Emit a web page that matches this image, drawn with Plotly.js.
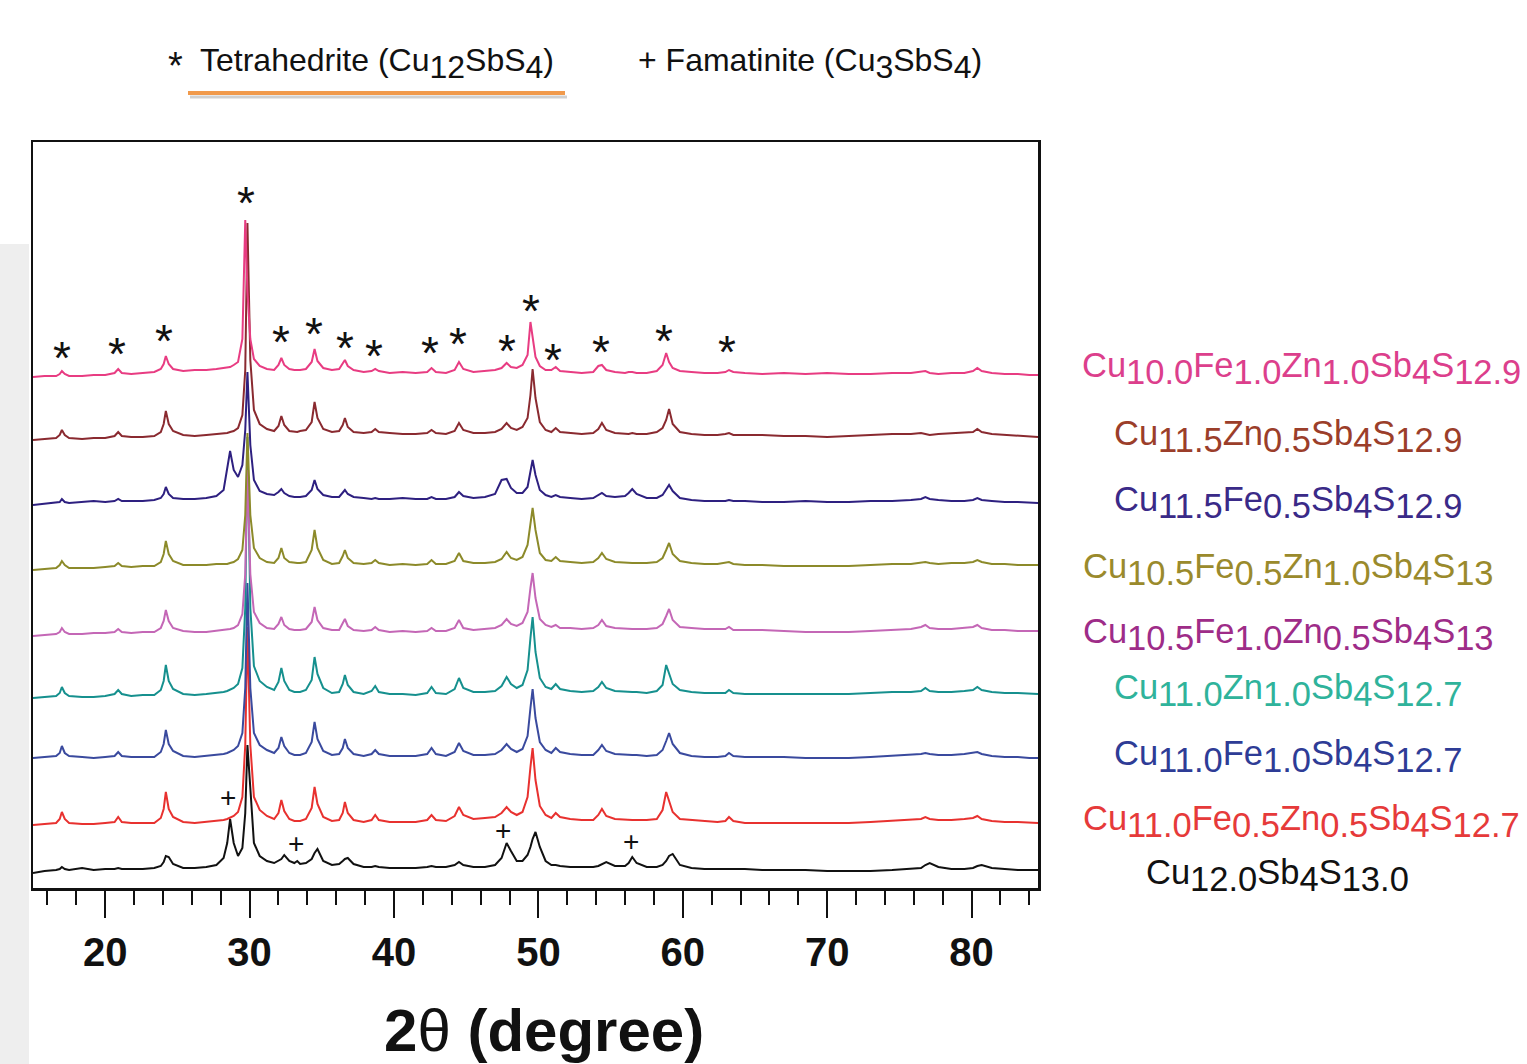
<!DOCTYPE html>
<html>
<head>
<meta charset="utf-8">
<script src="https://cdn.plot.ly/plotly-3.0.1.min.js"></script>
<style>
  html, body { margin: 0; padding: 0; background: #ffffff; }
  #chart { width: 1527px; height: 1064px; }
</style>
</head>
<body>
<div id="chart"></div>
<script>
// 2-theta sampling grid (degrees), shared by all patterns
const twoTheta = [
  15.0,15.8,16.6,16.85,17.0,17.2,17.5,18.4,19.2,20.0,
  20.65,20.9,21.15,21.8,22.6,23.4,23.85,24.05,24.2,24.4,
  24.7,25.4,26.2,27.0,27.7,28.2,28.45,28.65,28.9,29.2,
  29.5,29.7,29.85,30.05,30.3,30.7,31.2,31.7,32.0,32.2,
  32.4,32.75,33.1,33.3,33.5,33.9,34.3,34.5,34.7,35.1,
  35.7,36.2,36.45,36.6,36.8,37.2,37.9,38.45,38.7,38.95,
  39.7,40.6,41.5,42.3,42.6,42.9,43.6,44.2,44.5,44.8,
  45.5,46.3,47.0,47.45,47.8,48.1,48.5,48.9,49.25,49.45,
  49.6,49.8,50.1,50.5,50.9,51.2,51.5,52.2,53.0,53.8,
  54.15,54.4,54.7,55.3,56.0,56.25,56.5,56.8,57.5,58.2,
  58.6,58.85,59.05,59.3,59.8,60.6,61.5,62.4,62.95,63.2,
  63.5,64.3,65.5,67.0,68.5,70.0,71.5,73.0,74.5,75.8,
  76.5,76.8,77.1,77.7,78.6,79.5,80.1,80.4,80.7,81.4,82.3,83.2,84.0,84.6
];

// Intensities (a.u.) of each pattern, relative to its own baseline
const cu100Fe10Zn10 = [
  0,1,1,3,6,3,1,1,2,2,
  4,8,4,3,4,5,8,13,21,13,
  8,6,7,7,8,9,9,10,12,15,
  38,157,85,38,18,11,8,7,12,19,
  12,8,7,7,7,8,15,28,16,9,
  7,8,14,17,11,7,5,6,8,6,
  4,5,4,5,9,5,4,7,15,8,
  5,6,7,9,14,10,9,12,22,55,
  40,20,11,7,7,10,6,5,4,5,
  11,12,7,5,4,5,5,4,4,6,
  12,24,15,9,6,5,4,4,5,7,
  5,4,3,4,3,4,3,3,4,4,
  5,6,4,3,4,4,6,9,6,4,3,3,2,2
];
const cu115Zn05 = [
  0,1,2,5,10,5,2,1,2,2,
  4,8,4,3,3,4,8,16,29,16,
  9,5,4,5,6,6,7,8,9,12,
  25,70,217,80,30,16,11,9,14,24,
  15,9,8,8,9,10,18,38,22,11,
  8,9,15,22,13,8,7,8,11,8,
  7,6,6,7,10,7,6,9,17,10,
  7,7,8,11,17,12,10,13,22,45,
  71,42,18,10,8,12,8,7,6,7,
  11,17,10,7,6,6,7,6,6,8,
  12,20,31,16,8,6,5,5,6,7,
  5,5,5,4,4,3,4,5,6,6,
  7,6,5,6,7,8,8,11,8,6,5,4,3,3
];
const cu115Fe05 = [
  0,1,2,3,6,3,2,3,4,3,
  4,6,4,4,4,5,7,11,18,11,
  7,6,6,7,9,15,35,54,35,28,
  40,75,133,60,25,14,11,10,13,16,
  12,9,8,8,8,9,15,25,16,10,
  8,8,12,15,11,8,7,6,7,6,
  6,7,6,6,8,6,6,8,13,9,
  7,8,11,25,26,17,12,12,18,32,
  45,30,15,10,8,10,8,7,6,7,
  10,12,9,8,9,12,16,11,7,7,
  10,16,20,14,7,5,4,4,4,5,
  4,4,3,3,4,3,3,4,4,5,
  6,8,6,5,4,4,5,7,5,4,3,3,2,2
];
const cu105Fe05Zn10 = [
  0,1,2,5,9,5,2,2,2,3,
  4,7,4,3,4,4,8,16,29,16,
  9,5,5,5,6,6,6,7,8,11,
  20,55,137,55,22,12,8,7,12,22,
  12,8,7,7,7,8,20,40,22,10,
  6,7,14,20,12,7,6,7,10,7,
  5,6,5,6,10,6,6,9,17,9,
  7,7,8,11,18,12,10,13,25,48,
  62,40,17,10,9,13,9,8,7,8,
  12,17,11,8,7,7,7,7,7,8,
  12,20,27,16,9,7,6,6,7,8,
  6,5,5,4,4,4,4,5,6,6,
  7,8,7,6,7,7,8,10,8,6,6,5,5,5
];
const cu105Fe10Zn05 = [
  0,1,2,4,8,4,2,2,3,3,
  4,7,4,3,4,4,8,15,26,15,
  8,5,4,4,5,6,6,7,8,11,
  22,62,166,62,24,13,8,7,12,19,
  11,7,6,6,6,7,14,29,16,8,
  6,6,12,17,10,6,5,6,9,6,
  4,5,4,5,8,5,5,8,16,8,
  6,7,8,11,17,12,10,13,24,48,
  63,38,17,11,9,11,8,8,7,8,
  11,16,10,8,7,7,7,7,7,8,
  12,20,27,16,9,8,7,7,7,9,
  6,6,6,5,4,4,4,5,6,7,
  9,11,8,7,7,8,9,11,8,6,6,5,5,5
];
const cu110Zn10 = [
  0,1,2,5,11,5,2,1,1,2,
  4,8,4,2,3,3,8,17,33,17,
  9,4,3,4,5,6,7,8,10,14,
  30,90,261,90,32,17,11,8,16,30,
  17,8,6,6,6,8,18,41,24,10,
  5,6,14,23,13,6,4,7,12,6,
  4,4,3,5,11,5,4,9,20,10,
  6,6,7,12,21,14,10,13,28,60,
  81,46,20,11,9,14,9,7,6,7,
  11,16,10,7,6,6,6,6,5,7,
  13,33,25,14,8,6,5,5,5,8,
  5,4,4,4,4,4,4,5,6,6,
  7,10,7,6,6,7,8,11,8,6,5,5,4,4
];
const cu110Fe10 = [
  0,1,2,5,12,5,2,1,0,1,
  2,6,2,1,1,1,6,14,28,14,
  7,2,1,2,3,4,5,6,8,12,
  25,70,175,70,25,13,8,5,10,21,
  12,5,3,3,3,5,16,36,19,7,
  3,4,10,19,10,4,2,4,8,4,
  2,2,2,4,10,4,2,6,15,7,
  3,3,4,8,14,9,6,9,22,50,
  69,40,16,8,5,10,6,4,3,3,
  8,13,7,4,3,3,3,3,2,3,
  8,17,25,14,5,2,1,1,2,5,
  2,1,1,1,0,0,0,1,2,3,
  4,5,4,3,3,4,5,6,4,2,1,1,0,0
];
const cu110Fe05Zn05 = [
  0,1,2,6,13,6,2,1,1,2,
  3,8,3,2,2,2,7,16,33,16,
  8,3,2,3,4,5,6,7,9,13,
  28,80,198,80,28,15,9,6,12,25,
  14,6,4,4,4,6,17,38,21,8,
  4,5,12,23,12,5,3,5,10,5,
  3,3,3,5,10,5,4,9,18,10,
  6,7,8,12,18,13,10,13,28,58,
  77,45,19,10,7,12,8,6,5,5,
  10,16,9,6,5,5,5,5,5,6,
  15,33,24,13,6,5,4,3,4,8,
  4,2,2,2,2,2,2,3,4,5,
  6,8,6,5,5,6,7,9,6,4,3,3,2,2
];
const cu120 = [
  0,2,3,4,6,4,3,5,3,4,
  4,5,4,4,4,5,7,11,17,16,
  9,5,5,6,8,15,30,54,30,17,
  25,60,128,85,30,17,12,10,12,14,
  18,12,10,12,9,10,14,20,24,12,
  8,9,12,14,15,9,6,6,7,6,
  5,5,5,6,7,6,6,8,11,8,
  6,6,8,15,30,22,12,12,18,26,
  34,41,26,12,8,8,7,6,6,6,
  7,9,11,7,7,10,16,10,6,6,
  8,12,17,19,8,5,4,4,4,4,
  4,4,3,3,3,2,2,2,3,4,
  5,8,10,6,4,4,5,7,8,5,4,3,3,3
];

// Stacking offsets (a.u.) of each pattern, bottom to top
const seriesData = [cu120, cu110Fe05Zn05, cu110Fe10, cu110Zn10, cu105Fe10Zn05, cu105Fe05Zn10, cu115Fe05, cu115Zn05, cu100Fe10Zn10];
const stackOffsets = [15, 63, 130, 190, 252, 318, 383, 448, 511];
const sampleNames = [
  'Cu<sub>12.0</sub>Sb<sub>4</sub>S<sub>13.0</sub>',
  'Cu<sub>11.0</sub>Fe<sub>0.5</sub>Zn<sub>0.5</sub>Sb<sub>4</sub>S<sub>12.7</sub>',
  'Cu<sub>11.0</sub>Fe<sub>1.0</sub>Sb<sub>4</sub>S<sub>12.7</sub>',
  'Cu<sub>11.0</sub>Zn<sub>1.0</sub>Sb<sub>4</sub>S<sub>12.7</sub>',
  'Cu<sub>10.5</sub>Fe<sub>1.0</sub>Zn<sub>0.5</sub>Sb<sub>4</sub>S<sub>13</sub>',
  'Cu<sub>10.5</sub>Fe<sub>0.5</sub>Zn<sub>1.0</sub>Sb<sub>4</sub>S<sub>13</sub>',
  'Cu<sub>11.5</sub>Fe<sub>0.5</sub>Sb<sub>4</sub>S<sub>12.9</sub>',
  'Cu<sub>11.5</sub>Zn<sub>0.5</sub>Sb<sub>4</sub>S<sub>12.9</sub>',
  'Cu<sub>10.0</sub>Fe<sub>1.0</sub>Zn<sub>1.0</sub>Sb<sub>4</sub>S<sub>12.9</sub>'
];
const lineColors = ['#111111', '#e8312f', '#3a4a9e', '#16908e', '#c467b6', '#8c8a2a', '#2e2080', '#8a2a30', '#e83c82'];
const labelColors = ['#111111', '#e63a3a', '#2e3c96', '#2fb39b', '#9e2c88', '#9a8a2c', '#3a2a88', '#9b3e2a', '#dc3f8c'];
// label anchor (pixel left x, pixel centre y) in the picture
const labelLeftPx = [1144, 1081, 1112, 1112, 1081, 1081, 1112, 1112, 1080];
const labelMidPx = [871, 817, 752, 686, 630, 565, 498, 432, 364];

// Phase markers: tetrahedrite (*) and famatinite (+) positions
const starTheta = [17.0, 20.8, 24.1, 29.75, 32.2, 34.45, 36.6, 38.6, 42.5, 44.4, 47.8, 49.5, 51.0, 54.35, 58.7, 63.05];
const starLevel = [536, 540, 553, 691, 552, 560, 546, 538, 541, 550, 543, 583, 534, 542, 553, 542];
const plusTheta = [28.5, 33.2, 47.55, 56.4];
const plusLevel = [91, 45, 58, 47];

const xTickVals = [20, 30, 40, 50, 60, 70, 80];

// ---- build ----
const W = 1527, H = 1064;
const M = {l: 33, r: W - 1038, t: 142, b: H - 888};
const plotW = W - M.l - M.r, plotH = H - M.t - M.b;
const px2paperX = px => (px - M.l) / plotW;
const py2paperY = py => (H - M.b - py) / plotH;

function bigSub(html, size) {
  return html.replace(/<sub>([^<]*)<\/sub>/g, '<sub><span style="font-size:' + size + 'px">$1</span></sub>');
}

const traces = seriesData.map((arr, i) => ({
  type: 'scatter',
  mode: 'lines',
  x: twoTheta,
  y: arr.map(v => v + stackOffsets[i]),
  line: {color: lineColors[i], width: 2},
  hoverinfo: 'skip',
  showlegend: false
}));

const FONT = 'Liberation Sans, Arial, sans-serif';
const LABEL_SIZE = 34.5;
const annotations = [];
starTheta.forEach((t, i) => {
  annotations.push({x: t, y: starLevel[i], xref: 'x', yref: 'y', text: '*', showarrow: false,
    font: {family: FONT, size: 46, color: '#111'}, yshift: -6});
});
plusTheta.forEach((t, i) => {
  annotations.push({x: t, y: plusLevel[i], xref: 'x', yref: 'y', text: '+', showarrow: false,
    font: {family: FONT, size: 28, color: '#111'}});
});
sampleNames.forEach((nm, i) => {
  annotations.push({x: px2paperX(labelLeftPx[i]), y: py2paperY(labelMidPx[i] + 4), xref: 'paper', yref: 'paper',
    xanchor: 'left', yanchor: 'middle', showarrow: false, text: bigSub(nm, LABEL_SIZE),
    font: {family: FONT, size: LABEL_SIZE, color: labelColors[i]}});
});
// legend-like header
annotations.push({x: px2paperX(166), y: py2paperY(66), xref: 'paper', yref: 'paper', xanchor: 'left', yanchor: 'middle',
  showarrow: false, text: '*', font: {family: FONT, size: 38, color: '#111'}});
annotations.push({x: px2paperX(198), y: py2paperY(64), xref: 'paper', yref: 'paper', xanchor: 'left', yanchor: 'middle',
  showarrow: false, text: bigSub('Tetrahedrite (Cu<sub>12</sub>SbS<sub>4</sub>)', 32),
  font: {family: FONT, size: 32, color: '#111'}});
annotations.push({x: px2paperX(636), y: py2paperY(64), xref: 'paper', yref: 'paper', xanchor: 'left', yanchor: 'middle',
  showarrow: false, text: '+ ' + bigSub('Famatinite (Cu<sub>3</sub>SbS<sub>4</sub>)', 32),
  font: {family: FONT, size: 32, color: '#111'}});
// axis title
annotations.push({x: px2paperX(544), y: py2paperY(1030), xref: 'paper', yref: 'paper', xanchor: 'center', yanchor: 'middle',
  showarrow: false, text: '<b>2</b>θ<b> (degree)</b>', font: {family: FONT, size: 60, color: '#111'}});

const shapes = [
  // grey strip at the left edge
  {type: 'rect', xref: 'paper', yref: 'paper', x0: px2paperX(0), x1: px2paperX(29), y0: py2paperY(1064), y1: py2paperY(244),
    fillcolor: '#eeeeee', line: {width: 0}, layer: 'below'},
  // underline shadow + orange underline
  {type: 'line', xref: 'paper', yref: 'paper', x0: px2paperX(190), x1: px2paperX(567), y0: py2paperY(97), y1: py2paperY(97),
    line: {color: 'rgba(150,150,150,0.45)', width: 3}},
  {type: 'line', xref: 'paper', yref: 'paper', x0: px2paperX(188), x1: px2paperX(565), y0: py2paperY(93), y1: py2paperY(93),
    line: {color: '#f19a4c', width: 4}}
];

const layout = {
  width: W, height: H,
  margin: M,
  paper_bgcolor: '#ffffff', plot_bgcolor: '#ffffff',
  showlegend: false,
  xaxis: {
    range: [15, 84.6], showgrid: false, zeroline: false,
    showline: true, mirror: true, linecolor: '#111', linewidth: 2.5,
    tickmode: 'array', tickvals: xTickVals, ticktext: xTickVals.map(String),
    ticks: 'outside', ticklen: 27, tickwidth: 2, tickcolor: '#111',
    minor: {dtick: 2, tick0: 0, ticks: 'outside', ticklen: 14, tickwidth: 2, tickcolor: '#111', showgrid: false},
    tickfont: {family: FONT, size: 40, color: '#111', weight: 'bold'},
    fixedrange: true
  },
  yaxis: {
    range: [0, 746], showgrid: false, zeroline: false,
    showline: true, mirror: true, linecolor: '#111', linewidth: 2.5,
    showticklabels: false, ticks: '', fixedrange: true
  },
  annotations: annotations,
  shapes: shapes
};

Plotly.newPlot('chart', traces, layout, {staticPlot: true, displayModeBar: false});
</script>
</body>
</html>
